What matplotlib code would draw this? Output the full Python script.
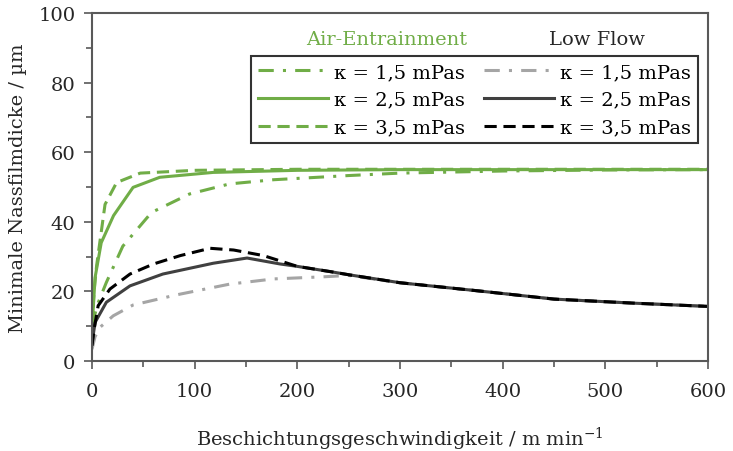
import matplotlib
matplotlib.use("Agg")
import matplotlib.pyplot as plt
from matplotlib.ticker import MultipleLocator

# ---------------- data ----------------
ae15_x = [0, 5, 14, 30, 58, 95, 134, 177, 250, 300, 400, 500, 600]
ae15_y = [10, 16, 22.6, 33, 42.7, 48, 50.9, 52.1, 53.3, 54, 54.6, 54.9, 55]
ae25_x = [0, 3, 9, 21, 40, 66, 118, 200, 300, 600]
ae25_y = [9, 24, 34, 41.8, 49.9, 52.8, 54.2, 54.8, 55, 55]
ae35_x = [0, 2, 4.5, 12.7, 24, 47, 100, 200, 600]
ae35_y = [10, 20, 27.4, 45, 51.3, 54, 54.8, 55.1, 55.1]

lf15_x = [0, 3, 7.8, 20.7, 40, 82, 134, 177, 225, 250, 300, 375, 450, 530, 600]
lf15_y = [3.4, 7, 9.7, 13, 16.1, 19, 22.1, 23.6, 24.2, 24.6, 22.5, 20.2, 17.8, 16.6, 15.7]
lf25_x = [0, 3, 14, 37, 69, 118, 151, 183, 200, 232, 250, 300, 375, 450, 530, 600]
lf25_y = [5, 11.1, 16.9, 21.6, 25, 28.1, 29.6, 27.9, 27.2, 25.7, 24.8, 22.5, 20.2, 17.8, 16.6, 15.7]
lf35_x = [0, 2, 6, 17.5, 37, 60, 86, 115, 138, 167, 200, 232, 250, 300, 375, 450, 530, 600]
lf35_y = [4.4, 9, 15.9, 20.7, 25, 27.9, 30.3, 32.4, 31.9, 30.3, 27.2, 25.7, 24.8, 22.5, 20.2, 17.8, 16.6, 15.7]

series_labels = ["κ = 1,5 mPas", "κ = 2,5 mPas", "κ = 3,5 mPas"]
group_titles = ["Air-Entrainment", "Low Flow"]
x_ticks = [0, 100, 200, 300, 400, 500, 600]
y_ticks = [0, 20, 40, 60, 80, 100]
xlabel = "Beschichtungsgeschwindigkeit / m min$^{-1}$"
ylabel = "Minimale Nassfilmdicke / µm"

# ---------------- style ----------------
plt.rcParams['font.family'] = ['DejaVu Serif']
plt.rcParams['mathtext.fontset'] = 'dejavuserif'

GREEN = "#70AD47"
GRAY = "#A5A5A5"
DARK = "#404040"
BLACK = "#000000"
TXT = "#262626"
lw = 2.2
dashdot = (0, (5, 3, 1, 3))
dashed = (0, (4, 2.2))
FS = 14

fig = plt.figure(figsize=(7.33, 4.52), dpi=100)
ax = fig.add_axes([0.1255, 0.199, 0.8405, 0.770])

h1, = ax.plot(ae15_x, ae15_y, color=GREEN, lw=lw, linestyle=dashdot)
h2, = ax.plot(ae25_x, ae25_y, color=GREEN, lw=lw, linestyle='-')
h3, = ax.plot(ae35_x, ae35_y, color=GREEN, lw=lw, linestyle=dashed)
h4, = ax.plot(lf15_x, lf15_y, color=GRAY, lw=lw, linestyle=dashdot)
h5, = ax.plot(lf25_x, lf25_y, color=DARK, lw=lw, linestyle='-')
h6, = ax.plot(lf35_x, lf35_y, color=BLACK, lw=lw, linestyle=dashed)

ax.set_xlim(0, 600)
ax.set_ylim(0, 100)
ax.set_xticks(x_ticks)
ax.set_yticks(y_ticks)
ax.xaxis.set_minor_locator(MultipleLocator(50))
ax.yaxis.set_minor_locator(MultipleLocator(10))
ax.tick_params(which='major', direction='out', length=6, width=1.2, color="#595959",
               labelsize=FS, labelcolor=TXT)
ax.tick_params(axis='x', which='major', pad=9)
ax.tick_params(axis='y', which='major', pad=6)
ax.tick_params(which='minor', direction='out', length=4, width=1.2, color="#595959")
for s in ax.spines.values():
    s.set_color("#595959")
    s.set_linewidth(1.5)

ax.set_xlabel(xlabel, fontsize=FS, color=TXT, labelpad=18)
ax.set_ylabel(ylabel, fontsize=FS, color=TXT, labelpad=8)

handles = [h1, h2, h3, h4, h5, h6]
labels = series_labels + series_labels
leg = ax.legend(handles, labels, ncol=2, loc='upper right',
                bbox_to_anchor=(0.983, 0.876), fontsize=FS, frameon=True,
                fancybox=False, edgecolor='black', handlelength=3.6,
                handletextpad=0.3, columnspacing=1.0, labelspacing=0.5,
                borderpad=0.35, borderaxespad=0)
leg.get_frame().set_linewidth(1.5)

ax.text(0.479, 0.925, group_titles[0], transform=ax.transAxes, color=GREEN,
        fontsize=FS, ha='center', va='center')
ax.text(0.82, 0.925, group_titles[1], transform=ax.transAxes, color=TXT,
        fontsize=FS, ha='center', va='center')

fig.savefig("out.png", dpi=100)
